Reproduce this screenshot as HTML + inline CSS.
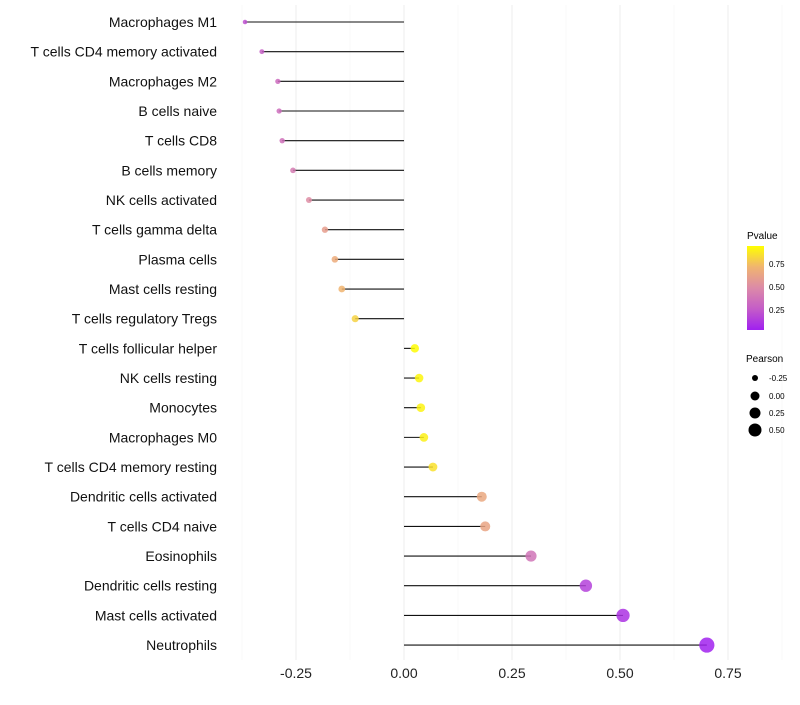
<!DOCTYPE html>
<html><head><meta charset="utf-8"><style>
body{margin:0;background:#fff;font-family:"Liberation Sans",sans-serif}
</style></head><body>
<svg id="chart" width="800" height="700" xmlns="http://www.w3.org/2000/svg">
<defs><linearGradient id="pg" x1="0" y1="1" x2="0" y2="0">
<stop offset="0" stop-color="#a020f0"/><stop offset="0.25" stop-color="#c45cc8"/>
<stop offset="0.5" stop-color="#dc8aa8"/><stop offset="0.75" stop-color="#f0b470"/><stop offset="1" stop-color="#ffff00"/>
</linearGradient></defs>
<g id="grid"></g><g id="marks"></g><g id="labels"></g>
<g>
<text x="747" y="239" font-size="10">Pvalue</text>
<rect x="747" y="246" width="17" height="84" fill="url(#pg)"/>
<text x="769" y="267" font-size="8">0.75</text>
<text x="769" y="290" font-size="8">0.50</text>
<text x="769" y="313" font-size="8">0.25</text>
</g>
<g>
<text x="746" y="362" font-size="10">Pearson</text>
<circle cx="755" cy="378" r="3" fill="#000"/><text x="769" y="381" font-size="8">-0.25</text>
<circle cx="755" cy="396" r="4.5" fill="#000"/><text x="769" y="399" font-size="8">0.00</text>
<circle cx="755" cy="413" r="5.5" fill="#000"/><text x="769" y="416" font-size="8">0.25</text>
<circle cx="755" cy="430" r="6.5" fill="#000"/><text x="769" y="433" font-size="8">0.50</text>
</g>
</svg>
<script>
const categories=["Macrophages M1","T cells CD4 memory activated","Macrophages M2","B cells naive","T cells CD8","B cells memory","NK cells activated","T cells gamma delta","Plasma cells","Mast cells resting","T cells regulatory  Tregs","T cells follicular helper","NK cells resting","Monocytes","Macrophages M0","T cells CD4 memory resting","Dendritic cells activated","T cells CD4 naive","Eosinophils","Dendritic cells resting","Mast cells activated","Neutrophils"];
const pearson=[-0.368,-0.329,-0.292,-0.289,-0.282,-0.257,-0.22,-0.183,-0.16,-0.144,-0.113,0.025,0.035,0.039,0.046,0.067,0.18,0.188,0.294,0.421,0.507,0.701];
const pvalues=[0.2,0.27,0.33,0.34,0.36,0.42,0.52,0.62,0.7,0.75,0.85,0.99,0.97,0.96,0.95,0.9,0.68,0.66,0.38,0.14,0.08,0.01];
const ticks=[-0.25,0,0.25,0.5,0.75];
const tickLabels=["-0.25","0.00","0.25","0.50","0.75"];
const NS="http://www.w3.org/2000/svg";
const x=v=>404+v*432;
const y=i=>22+i*29.67;
const r=v=>Math.max(1.5,4.1+v*5);
const stops=[[0,[160,32,240]],[0.25,[196,92,200]],[0.5,[220,138,168]],[0.75,[240,180,112]],[1,[255,255,0]]];
function col(p){for(let k=1;k<stops.length;k++){if(p<=stops[k][0]){const a=stops[k-1],b=stops[k],t=(p-a[0])/(b[0]-a[0]);return "rgb("+a[1].map((c,j)=>Math.round(c+(b[1][j]-c)*t)).join(",")+")";}}return "rgb(255,255,0)";}
function mk(t,at,parent){const e=document.createElementNS(NS,t);for(const k in at)e.setAttribute(k,at[k]);parent.appendChild(e);return e;}
const G=document.getElementById("grid"),M=document.getElementById("marks"),L=document.getElementById("labels");
for(let v=-0.375;v<=0.875;v+=0.125){const major=Math.abs(v*4-Math.round(v*4))<1e-6;const g=mk("line",{x1:x(v),x2:x(v),y1:5,y2:660,stroke:major?"#eeeeee":"#f5f5f5","stroke-width":major?1:0.6},G);

}
ticks.forEach((v,i)=>{const t=mk("text",{x:x(v),y:678,"font-size":14,"text-anchor":"middle",fill:"#222"},L);t.textContent=tickLabels[i];

});
categories.forEach((c,i)=>{
const t=mk("text",{x:217,y:y(i)+5,"font-size":14,"text-anchor":"end",fill:"#111"},L);t.textContent=c;


const ln=mk("line",{x1:x(0),x2:x(pearson[i]),y1:y(i),y2:y(i),stroke:"#111","stroke-width":1.1},M);


const d=mk("circle",{cx:x(pearson[i]),cy:y(i),r:r(pearson[i]),fill:col(pvalues[i]),"fill-opacity":0.85},M);


});
</script>
</body></html>
